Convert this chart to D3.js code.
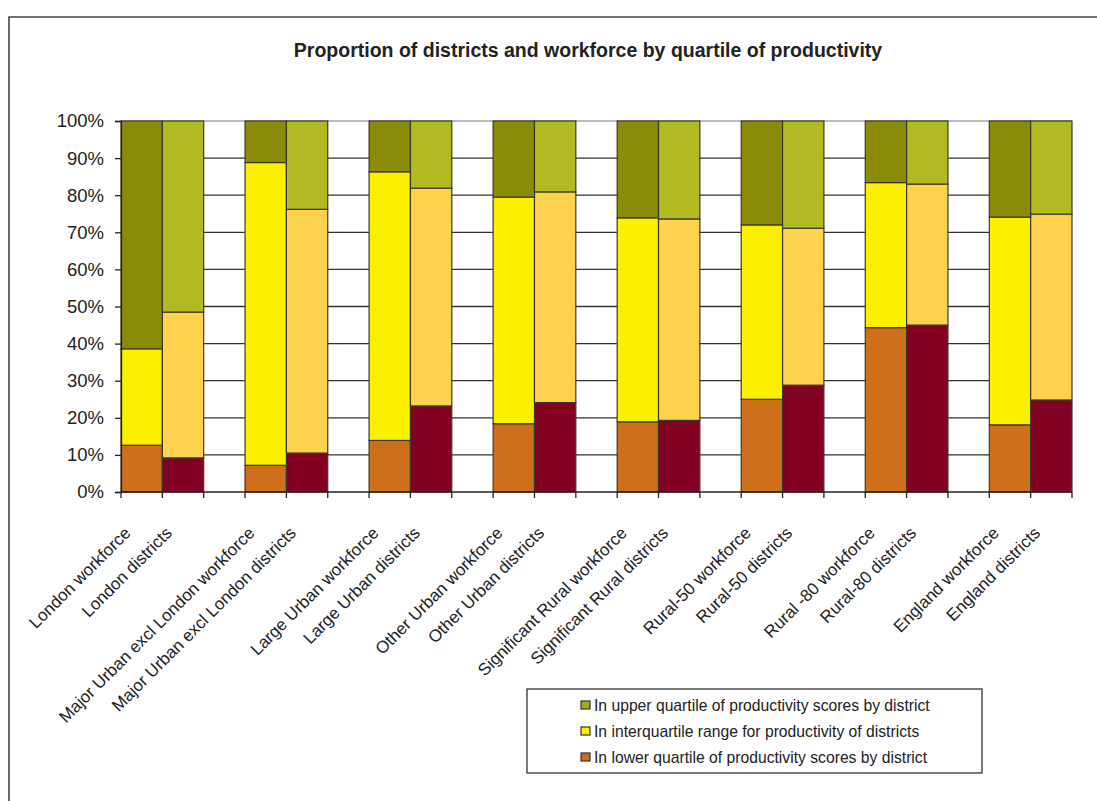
<!DOCTYPE html>
<html>
<head>
<meta charset="utf-8">
<script src="https://cdn.jsdelivr.net/npm/d3@7"></script>
<style>
  html, body { margin: 0; padding: 0; background: #fff; }
  svg { display: block; font-family: "Liberation Sans", Arial, sans-serif; }
</style>
</head>
<body>
<svg id="chart" width="1097" height="801"></svg>
<script>
// Bars in display order: each region has a workforce bar and a districts bar
const categories = [
  "London workforce", "London districts",
  "Major Urban excl London workforce", "Major Urban excl London districts",
  "Large Urban workforce", "Large Urban districts",
  "Other Urban workforce", "Other Urban districts",
  "Significant Rural workforce", "Significant Rural districts",
  "Rural-50 workforce", "Rural-50 districts",
  "Rural -80 workforce", "Rural-80 districts",
  "England workforce", "England districts"
];
// Shares (%) in each quartile band
const lowerQuartile = [12.6, 9.2, 7.2, 10.5, 13.9, 23.2, 18.4, 24.1, 18.9, 19.3, 25.0, 28.8, 44.3, 45.0, 18.1, 24.8];
const interQuartile = [26.0, 39.3, 81.6, 65.7, 72.4, 58.7, 61.1, 56.8, 55.0, 54.3, 47.0, 42.3, 39.1, 38.0, 56.0, 50.1];
const upperQuartile = [61.4, 51.5, 11.2, 23.8, 13.7, 18.1, 20.5, 19.1, 26.1, 26.4, 28.0, 28.9, 16.6, 17.0, 25.9, 25.1];
const yTicks = [0, 10, 20, 30, 40, 50, 60, 70, 80, 90, 100];
const seriesNames = [
  "In upper quartile of productivity scores by district",
  "In interquartile range for productivity of districts",
  "In lower quartile of productivity scores by district"
];
const title = "Proportion of districts and workforce by quartile of productivity";

// Palettes: workforce bars vs districts bars (lower, inter, upper)
const workforceColors = ["#CF6F1C", "#FDEF00", "#8A8C08"];
const districtColors  = ["#820022", "#FED24E", "#B2BA21"];
const legendColors    = ["#A3AA1E", "#FDEF00", "#CF6F1C"];

const svg = d3.select("#chart");
const width = 1097, height = 801;

// Outer chart frame (runs off the right and bottom edges)
svg.append("path")
  .attr("d", `M9,${height + 2} L9,17 L${width + 2},17`)
  .attr("fill", "none").attr("stroke", "#444").attr("stroke-width", 1.6);

svg.append("text")
  .attr("x", 588).attr("y", 57)
  .attr("text-anchor", "middle")
  .attr("font-weight", "bold")
  .attr("font-size", 19.5)
  .attr("fill", "#222")
  .text(title);

// Slot layout: two bars per region followed by an empty spacer slot
const slots = [];
categories.forEach((c, i) => {
  slots.push("c" + i);
  if (i % 2 === 1 && i < categories.length - 1) slots.push("gap" + i);
});

const plotLeft = 121, plotRight = 1072, plotTop = 121, plotBottom = 492;
const x = d3.scaleBand().domain(slots).range([plotLeft, plotRight]).paddingInner(0).paddingOuter(0);
const y = d3.scaleLinear().domain([0, 100]).range([plotBottom, plotTop]);

// Horizontal gridlines
svg.append("g").selectAll("line")
  .data(yTicks.filter(t => t > 0))
  .join("line")
  .attr("x1", plotLeft).attr("x2", plotRight)
  .attr("y1", d => y(d)).attr("y2", d => y(d))
  .attr("stroke", d => d === 100 ? "#a6a6a6" : "#333")
  .attr("stroke-width", 1.3);

// Stacked bars
const stackData = categories.map((c, i) => ({
  key: "c" + i,
  workforce: i % 2 === 0,
  lower: lowerQuartile[i], inter: interQuartile[i], upper: upperQuartile[i]
}));
const stack = d3.stack().keys(["lower", "inter", "upper"]);
const layers = stack(stackData);

layers.forEach((layer, li) => {
  svg.append("g").selectAll("rect")
    .data(layer)
    .join("rect")
    .attr("x", d => x(d.data.key))
    .attr("width", x.bandwidth())
    .attr("y", d => y(Math.min(100, d[1])))
    .attr("height", d => y(d[0]) - y(Math.min(100, d[1])))
    .attr("fill", d => (d.data.workforce ? workforceColors : districtColors)[li])
    .attr("stroke", "#3a3a2a")
    .attr("stroke-width", 1.2);
});

// Y axis
const yAxis = svg.append("g")
  .attr("transform", `translate(${plotLeft},0)`)
  .call(d3.axisLeft(y).tickValues(yTicks).tickFormat(d => d + "%").tickSize(6).tickPadding(11));
yAxis.select(".domain").attr("stroke", "#222").attr("stroke-width", 1.3);
yAxis.selectAll(".tick line").attr("stroke", "#222").attr("stroke-width", 1.3);
yAxis.selectAll(".tick text")
  .attr("font-size", 18.5).attr("fill", "#222")
  .attr("font-family", "Liberation Sans, Arial, sans-serif");

// X axis baseline with a tick at every slot boundary
const bounds = slots.map(s => x(s)).concat([plotRight]);
svg.append("line")
  .attr("x1", plotLeft).attr("x2", plotRight)
  .attr("y1", plotBottom).attr("y2", plotBottom)
  .attr("stroke", "#222").attr("stroke-width", 1.3);
svg.append("g").selectAll("line")
  .data(bounds)
  .join("line")
  .attr("x1", d => d).attr("x2", d => d)
  .attr("y1", plotBottom).attr("y2", plotBottom + 6)
  .attr("stroke", "#222").attr("stroke-width", 1.3);

// Rotated category labels
svg.append("g").selectAll("text")
  .data(categories)
  .join("text")
  .attr("transform", (d, i) => {
    const cx = x("c" + i) + x.bandwidth() / 2;
    return `translate(${cx - 10},${plotBottom + 42}) rotate(-45)`;
  })
  .attr("text-anchor", "end")
  .attr("font-size", 17)
  .attr("fill", "#222")
  .text(d => d);

// Legend
const legend = svg.append("g");
legend.append("rect")
  .attr("x", 527).attr("y", 689).attr("width", 455).attr("height", 84)
  .attr("fill", "#fff").attr("stroke", "#333").attr("stroke-width", 1.3);
seriesNames.forEach((name, i) => {
  const cy = 705 + i * 26;
  legend.append("rect")
    .attr("x", 581).attr("y", cy - 4).attr("width", 9).attr("height", 8)
    .attr("fill", legendColors[i]).attr("stroke", "#333").attr("stroke-width", 1.2);
  legend.append("text")
    .attr("x", 594).attr("y", cy + 5.5)
    .attr("font-size", 15.7).attr("fill", "#222")
    .text(name);
});
</script>
</body>
</html>
